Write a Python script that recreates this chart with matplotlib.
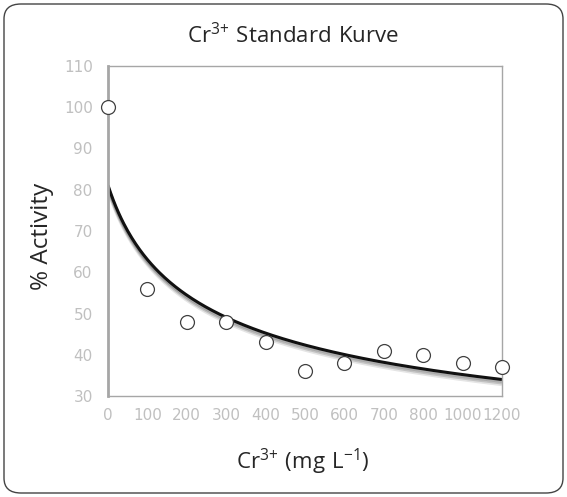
import numpy as np
import matplotlib
matplotlib.use('Agg')
import matplotlib.pyplot as plt
from matplotlib.patches import FancyBboxPatch

plt.rcParams['font.family'] = ['Open Sans', 'DejaVu Sans']
plt.rcParams['mathtext.default'] = 'regular'

# data (category axis)
conc_labels = ['0', '100', '200', '300', '400', '500', '600', '700', '800', '1000', '1200']
activity = [100, 56, 48, 48, 43, 36, 38, 41, 40, 38, 37]
y_ticks = [30, 40, 50, 60, 70, 80, 90, 100, 110]

pos = np.arange(len(conc_labels))

# power trendline as excel does it, x = 1..n
p, lnc = np.polyfit(np.log(pos + 1), np.log(activity), 1)
xs = np.linspace(0, len(conc_labels) - 1, 300)
trend = np.exp(lnc) * (xs + 1) ** p

fig = plt.figure(figsize=(5.67, 4.97), dpi=100)
ax = fig.add_axes([108/567, 1 - 396/497, 394/567, 330/497])

# soft shadow under the trendline
for off, a in [(1.2, 0.10), (0.8, 0.15), (0.4, 0.2)]:
    ax.plot(xs, trend - off, color='black', lw=2.5, alpha=a, solid_capstyle='butt')
ax.plot(xs, trend, color='#111111', lw=2.2, solid_capstyle='butt')
ax.plot(pos, activity, 'o', ms=10, mfc='white', mec='#404040', mew=0.9, clip_on=False, zorder=5)

ax.set_xlim(0, len(conc_labels) - 1)
ax.set_ylim(30, 110)
ax.set_yticks(y_ticks)
ax.set_yticklabels([str(v) for v in y_ticks], fontfamily='DejaVu Sans', fontsize=11)
ax.set_xticks(pos)
ax.set_xticklabels(conc_labels, fontfamily='DejaVu Sans', fontsize=11)
ax.tick_params(length=0, colors='#c0c0c0')
ax.tick_params(axis='y', pad=11)
ax.tick_params(axis='x', pad=9)
for s in ax.spines.values():
    s.set_color('#a6a6a6')
    s.set_linewidth(1.0)
ax.spines['left'].set_linewidth(2.0)

fig.text(293/567, 1 - 36/497, r'$\mathregular{Cr^{3{+}}\ Standard\ Kurve}$', ha='center', va='center', fontsize=16, color='#262626')
fig.text(303/567, 1 - 462/497, r'$\mathregular{Cr^{3{+}}\ (mg\ L^{{-}1})}$', ha='center', va='center', fontsize=16, color='#262626')
fig.text(42/567, 1 - 236/497, '% Activity', ha='center', va='center', rotation=90, fontsize=17.5, color='#262626')

border = FancyBboxPatch((4/567, 4/497), 559/567, 489/497, boxstyle='round,pad=0,rounding_size=0.03',
                        transform=fig.transFigure, fill=False, ec='#444444', lw=1.0)
fig.patches.append(border)

fig.savefig('out.png', dpi=100)
